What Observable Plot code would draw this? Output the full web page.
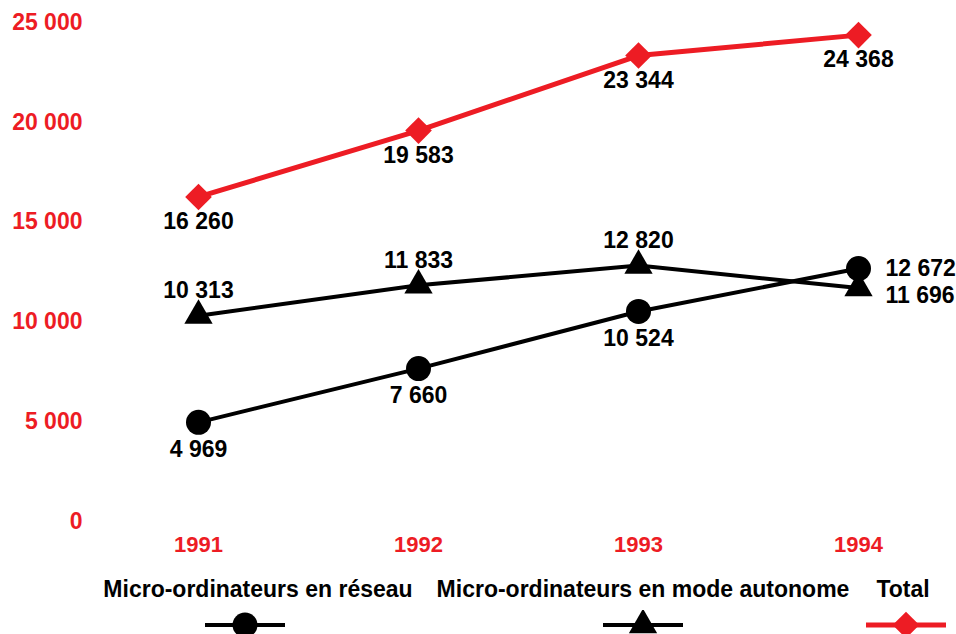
<!DOCTYPE html>
<html><head><meta charset="utf-8">
<script src="https://cdn.jsdelivr.net/npm/d3@7"></script>
<script src="https://cdn.jsdelivr.net/npm/@observablehq/plot@0.6"></script>
<style>
html,body{margin:0;padding:0;background:#fff;overflow:hidden;}
#wrap{position:relative;width:956px;height:634px;font-family:"Liberation Sans",Arial,sans-serif;font-weight:bold;}
.leg{position:absolute;top:578px;transform:translateX(-50%);font-size:23px;line-height:23px;white-space:nowrap;color:#000;}
.sym{position:absolute;top:610px;}
</style></head>
<body><div id="wrap"></div>
<script>
const years = [1991, 1992, 1993, 1994];
const reseau = [4969, 7660, 10524, 12672];
const autonome = [10313, 11833, 12820, 11696];
const total = [16260, 19583, 23344, 24368];
const yTicks = [0, 5000, 10000, 15000, 20000, 25000];
const seriesNames = ["Micro-ordinateurs en réseau", "Micro-ordinateurs en mode autonome", "Total"];

const RED = "#ed1c24";
const fmt = d3.formatLocale({decimal: ",", thousands: " ", grouping: [3], currency: ["", ""]}).format(",d");
const rows = vals => years.map((year, i) => ({year, value: vals[i], last: i === years.length - 1}));
const R = rows(reseau), A = rows(autonome), T = rows(total);
const FS = 23;

const chart = Plot.plot({
  width: 956, height: 565,
  marginLeft: 198, marginRight: 98, marginTop: 22, marginBottom: 44,
  style: {fontFamily: '"Liberation Sans", Arial, sans-serif', fontWeight: "bold", fontSize: FS + "px", background: "#fff"},
  x: {domain: [1991, 1994], axis: null},
  y: {domain: [0, 25000], axis: null},
  marks: [
    Plot.axisY({ticks: yTicks, tickFormat: fmt, tickSize: 0, tickPadding: 116, fill: RED, fontSize: 23, fontWeight: "bold", label: null}),
    Plot.axisX({ticks: years, tickFormat: d => String(d), tickSize: 0, tickPadding: 15, fill: RED, fontSize: 22, fontWeight: "bold", label: null}),
    Plot.line(T, {x: "year", y: "value", stroke: RED, strokeWidth: 5}),
    Plot.line(A, {x: "year", y: "value", stroke: "#000", strokeWidth: 4}),
    Plot.line(R, {x: "year", y: "value", stroke: "#000", strokeWidth: 4}),
    Plot.dot(T, {x: "year", y: "value", symbol: "diamond2", r: 12, fill: RED, stroke: "none"}),
    Plot.dot(A, {x: "year", y: "value", symbol: "triangle", r: 10.5, fill: "#000", stroke: "none"}),
    Plot.dot(R, {x: "year", y: "value", symbol: "circle", r: 12.5, fill: "#000", stroke: "none"}),
    Plot.text(T, {x: "year", y: "value", text: d => fmt(d.value), dy: 25, fill: "#000", fontSize: FS}),
    Plot.text(R.filter(d => !d.last), {x: "year", y: "value", text: d => fmt(d.value), dy: 27, fill: "#000", fontSize: FS}),
    Plot.text(R.filter(d => d.last), {x: "year", y: "value", text: d => fmt(d.value), dx: 27, dy: 0, textAnchor: "start", fill: "#000", fontSize: FS}),
    Plot.text(A.filter(d => !d.last), {x: "year", y: "value", text: d => fmt(d.value), dy: -25, fill: "#000", fontSize: FS}),
    Plot.text(A.filter(d => d.last), {x: "year", y: "value", text: d => fmt(d.value), dx: 27, dy: 8, textAnchor: "start", fill: "#000", fontSize: FS})
  ]
});
const wrap = document.getElementById("wrap");
wrap.appendChild(chart);

// legend
const legItems = [
  {name: seriesNames[0], cx: 258, sx: 245, color: "#000", shape: "circle"},
  {name: seriesNames[1], cx: 643, sx: 643, color: "#000", shape: "triangle"},
  {name: seriesNames[2], cx: 903, sx: 906, color: RED, shape: "diamond"}
];
for (const it of legItems) {
  const t = document.createElement("div");
  t.className = "leg";
  t.style.left = it.cx + "px";
  t.textContent = it.name;
  wrap.appendChild(t);
  const ns = "http://www.w3.org/2000/svg";
  const s = document.createElementNS(ns, "svg");
  s.setAttribute("width", 82); s.setAttribute("height", 30);
  s.setAttribute("class", "sym");
  s.style.left = (it.sx - 41) + "px";
  const ln = document.createElementNS(ns, "line");
  ln.setAttribute("x1", 1); ln.setAttribute("x2", 81); ln.setAttribute("y1", 15); ln.setAttribute("y2", 15);
  ln.setAttribute("stroke", it.color); ln.setAttribute("stroke-width", it.shape === "diamond" ? 5 : 4);
  s.appendChild(ln);
  const p = document.createElementNS(ns, "path");
  const sym = it.shape === "circle" ? d3.symbolCircle : it.shape === "triangle" ? d3.symbolTriangle : d3.symbolDiamond2;
  const r = it.shape === "circle" ? 12.5 : it.shape === "triangle" ? 10.5 : 12;
  p.setAttribute("d", d3.symbol(sym, Math.PI * r * r)());
  p.setAttribute("transform", "translate(41,15)");
  p.setAttribute("fill", it.color);
  s.appendChild(p);
  wrap.appendChild(s);
}
</script>
</body></html>
